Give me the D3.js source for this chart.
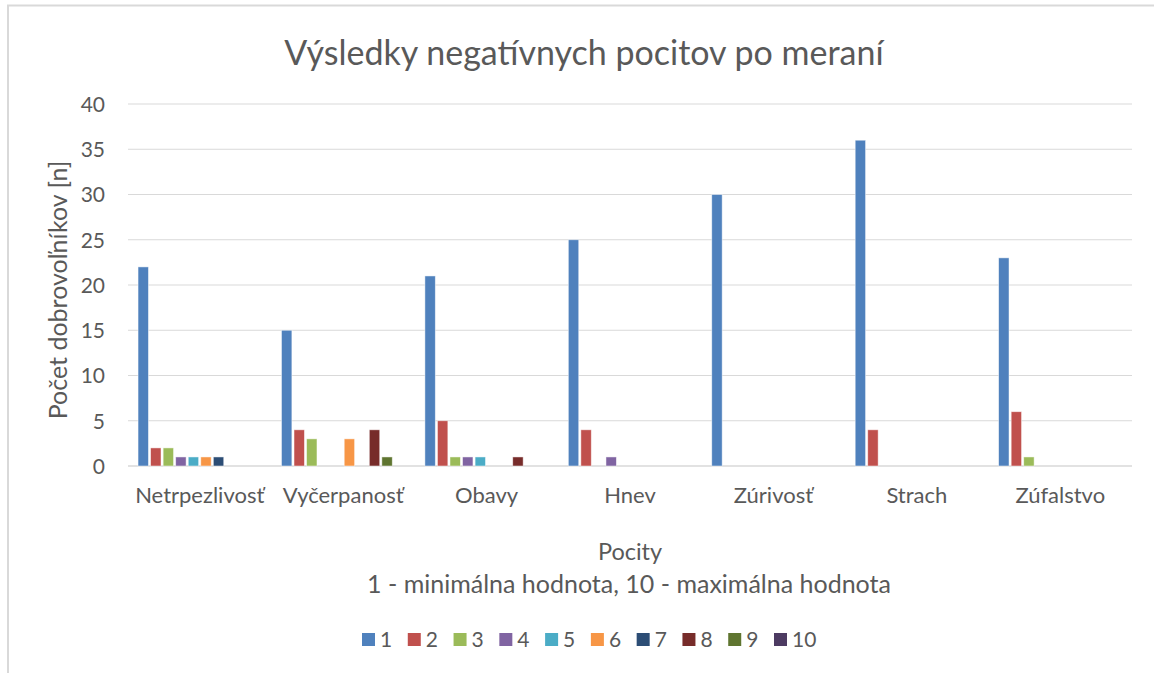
<!DOCTYPE html>
<html>
<head>
<meta charset="utf-8">
<script src="https://cdn.jsdelivr.net/npm/d3@7"></script>
<style>
  body { margin: 0; background: #fff; }
  svg text { font-family: Lato, "Open Sans", sans-serif; fill: #595959; }
</style>
</head>
<body>
<svg id="chart"></svg>
<script>
// data
const categories = ["Netrpezlivosť", "Vyčerpanosť", "Obavy", "Hnev", "Zúrivosť", "Strach", "Zúfalstvo"]
const seriesNames = ["1", "2", "3", "4", "5", "6", "7", "8", "9", "10"]
const s1 = [22, 15, 21, 25, 30, 36, 23]
const s2 = [2, 4, 5, 4, 0, 4, 6]
const s3 = [2, 3, 1, 0, 0, 0, 1]
const s4 = [1, 0, 1, 1, 0, 0, 0]
const s5 = [1, 0, 1, 0, 0, 0, 0]
const s6 = [1, 3, 0, 0, 0, 0, 0]
const s7 = [1, 0, 0, 0, 0, 0, 0]
const s8 = [0, 4, 1, 0, 0, 0, 0]
const s9 = [0, 1, 0, 0, 0, 0, 0]
const s10 = [0, 0, 0, 0, 0, 0, 0]
const yTicks = [0, 5, 10, 15, 20, 25, 30, 35, 40]
const colors = ["#4F81BD", "#C0504D", "#9BBB59", "#8064A2", "#4BACC6", "#F79646", "#2C4D75", "#772C2A", "#5F7530", "#4D3B62"]

const allSeries = [s1, s2, s3, s4, s5, s6, s7, s8, s9, s10]

const w = 1154
const h = 673
const plotLeft = 128
const plotRight = 1132
const plotTop = 104
const plotBottom = 466

let svg = d3.select("#chart").attr("width", w).attr("height", h)

// chart frame (only top and left edges visible)
svg.append("path")
  .attr("d", `M8,${h} L8,5.5 L${w},5.5`)
  .attr("fill", "none")
  .attr("stroke", "#d9d9d9")
  .attr("stroke-width", 2)

let x0 = d3.scaleBand().domain(categories).range([plotLeft, plotRight])
let x1 = d3.scaleBand().domain(seriesNames).range([0, x0.bandwidth()])
  .paddingInner(0.17).paddingOuter(0.8)
let y = d3.scaleLinear().domain([0, 40]).range([plotBottom, plotTop])

// gridlines
svg.append("g")
  .selectAll("line")
  .data(yTicks)
  .enter()
  .append("line")
  .attr("x1", plotLeft)
  .attr("x2", plotRight)
  .attr("y1", d => y(d))
  .attr("y2", d => y(d))
  .attr("stroke", "#d9d9d9")
  .attr("stroke-width", d => d === 0 ? 1.6 : 1.2)

// y axis labels
let yAxis = d3.axisLeft(y).tickValues(yTicks).tickSize(0).tickPadding(23)
let gy = svg.append("g").attr("transform", `translate(${plotLeft},0)`).call(yAxis)
gy.select(".domain").remove()
gy.selectAll("text").style("font-size", "21px").attr("dy", "0.35em")

// bars
let rows = []
categories.forEach((c, ci) => {
  allSeries.forEach((s, si) => {
    rows.push({ cat: c, name: seriesNames[si], value: s[ci], color: colors[si] })
  })
})

svg.append("g")
  .selectAll("rect")
  .data(rows.filter(d => d.value > 0))
  .enter()
  .append("rect")
  .attr("x", d => x0(d.cat) + x1(d.name))
  .attr("width", x1.bandwidth())
  .attr("y", d => y(d.value))
  .attr("height", d => y(0) - y(d.value))
  .attr("fill", d => d.color)
  .attr("stroke", "#ffffff")
  .attr("stroke-opacity", 0.6)
  .attr("stroke-width", 0.8)

// category labels
let xAxis = d3.axisBottom(x0).tickSize(0).tickPadding(21)
let gx = svg.append("g").attr("transform", `translate(0,${plotBottom})`).call(xAxis)
gx.select(".domain").remove()
gx.selectAll("text").style("font-size", "22px")

// title
svg.append("text")
  .attr("x", 584)
  .attr("y", 65)
  .attr("text-anchor", "middle")
  .style("font-size", "34px")
  .text("Výsledky negatívnych pocitov po meraní")

// axis titles
svg.append("text")
  .attr("transform", `translate(67,290) rotate(-90)`)
  .attr("text-anchor", "middle")
  .style("font-size", "25px")
  .text("Počet dobrovoľníkov [n]")

svg.append("text")
  .attr("x", 630)
  .attr("y", 560)
  .attr("text-anchor", "middle")
  .style("font-size", "23.5px")
  .text("Pocity")

svg.append("text")
  .attr("x", 629)
  .attr("y", 593)
  .attr("text-anchor", "middle")
  .style("font-size", "25px")
  .text("1 - minimálna hodnota, 10 - maximálna hodnota")

// legend
let legendX = d3.scalePoint().domain(seriesNames).range([362, 774])
let lg = svg.append("g")
  .selectAll("g")
  .data(seriesNames)
  .enter()
  .append("g")
  .attr("transform", d => `translate(${legendX(d)},633)`)

lg.append("rect")
  .attr("width", 13)
  .attr("height", 13)
  .attr("fill", (d, i) => colors[i])

lg.append("text")
  .attr("x", 18)
  .attr("y", 14)
  .style("font-size", "21px")
  .text(d => d)
</script>
</body>
</html>
